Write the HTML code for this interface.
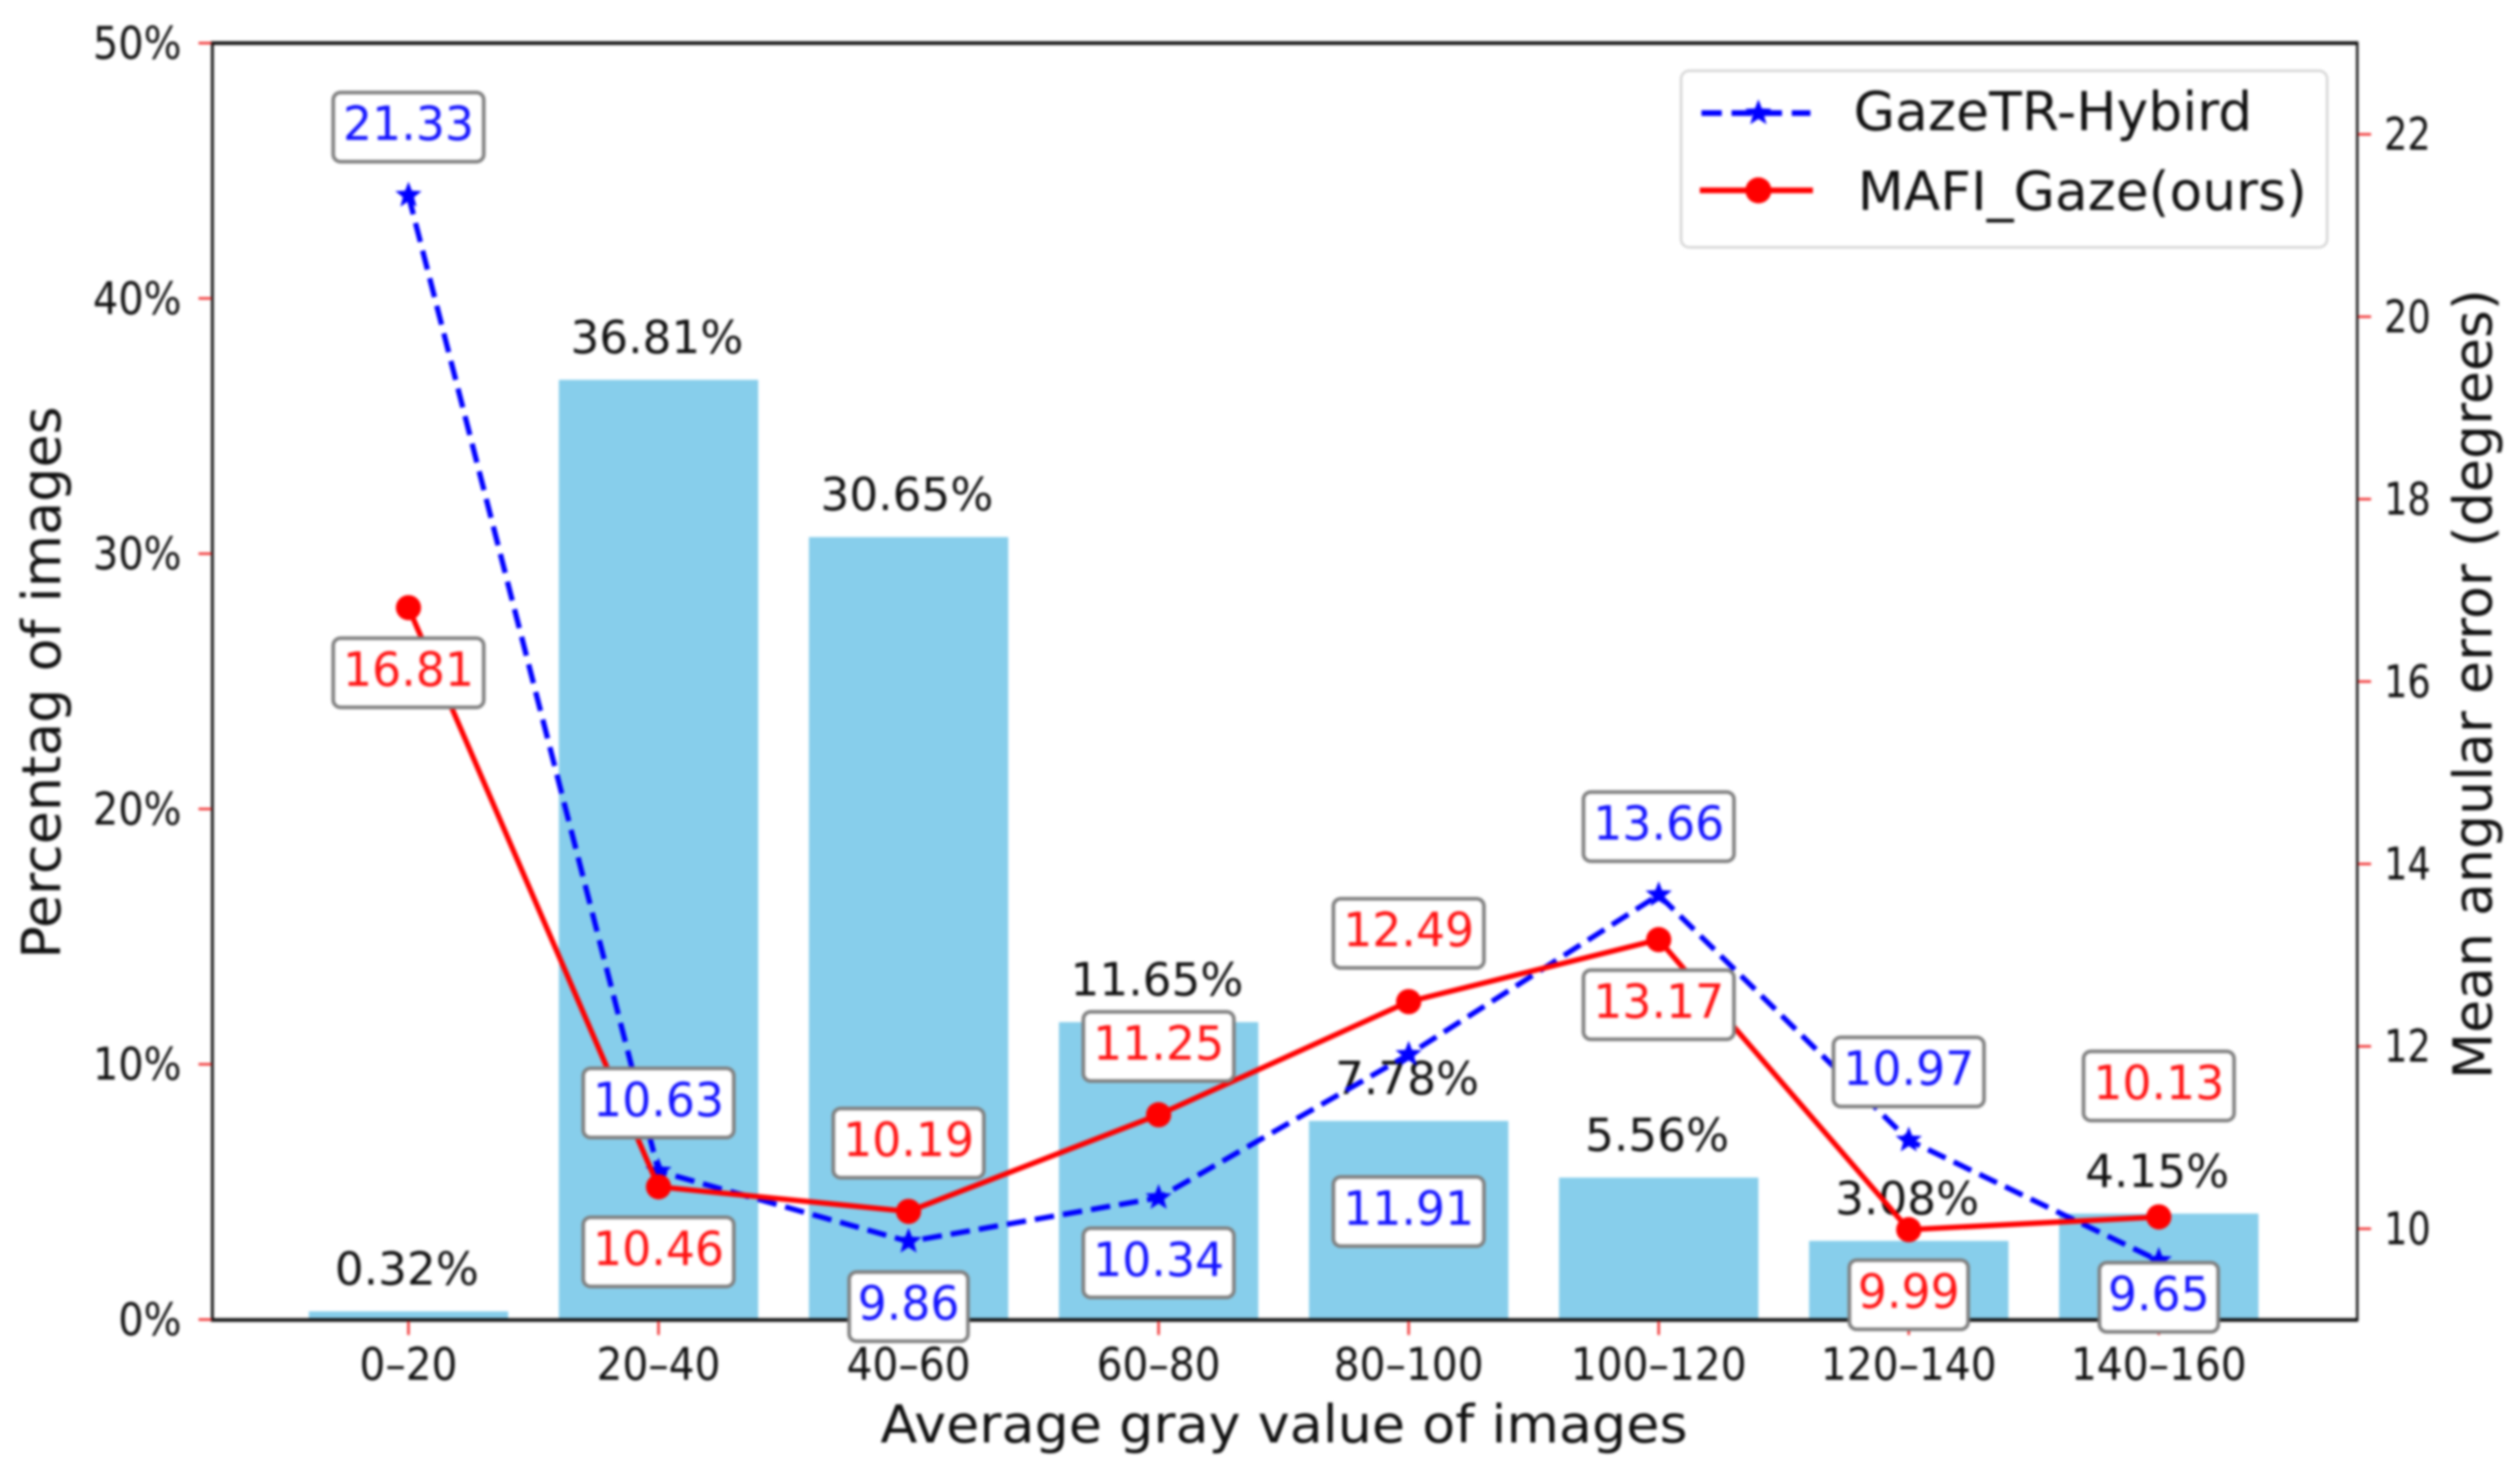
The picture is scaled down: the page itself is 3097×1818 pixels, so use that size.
<!DOCTYPE html>
<html lang="en">
<head>
<meta charset="utf-8">
<title>Percentage of images and mean angular error by average gray value</title>
<style>
  html, body { margin: 0; padding: 0; background: #fff; width: 3097px; height: 1818px; overflow: hidden; }
  svg { display: block; filter: blur(1.5px); }
  text { font-family: "DejaVu Sans", "Liberation Sans", sans-serif; }
</style>
</head>
<body>
<svg id="chart" xmlns="http://www.w3.org/2000/svg" width="3097" height="1818" viewBox="0 0 3097 1818">
  <rect x="0" y="0" width="3097" height="1818" fill="#fff"/>
  <g id="bars"></g>
  <g id="axes">
    <line x1="259" y1="53" x2="2898" y2="53" stroke="#111" stroke-width="4.5"/>
    <line x1="259" y1="1622.5" x2="2898" y2="1622.5" stroke="#111" stroke-width="4.5"/>
    <line x1="261" y1="51" x2="261" y2="1624" stroke="#111" stroke-width="3.5"/>
    <line x1="2897" y1="51" x2="2897" y2="1624" stroke="#111" stroke-width="3"/>
  </g>
  <g id="ticks"></g>
  <text x="1578" y="1773" font-size="64" fill="#111" text-anchor="middle" textLength="992" lengthAdjust="spacingAndGlyphs">Average gray value of images</text>
  <text transform="translate(74,839) rotate(-90)" font-size="66" fill="#111" text-anchor="middle" textLength="679" lengthAdjust="spacingAndGlyphs">Percentag of images</text>
  <text transform="translate(3062,841) rotate(-90)" font-size="66" fill="#111" text-anchor="middle" textLength="971" lengthAdjust="spacingAndGlyphs">Mean angular error (degrees)</text>
  <g id="barLabels"></g>
  <g id="lines"></g>
  <g id="callouts"></g>
  <g id="legend">
    <rect x="2066" y="87" width="794" height="217" rx="10" fill="#fff" stroke="#d4d4d4" stroke-width="3"/>
    <line x1="2091" y1="139" x2="2225" y2="139" stroke="#0000ff" stroke-width="7" stroke-dasharray="25,12"/>
    <line x1="2089" y1="234" x2="2228" y2="234" stroke="#ff0000" stroke-width="7"/>
    <circle cx="2161" cy="234" r="16" fill="#ff0000"/>
    <text x="2278" y="160" font-size="66" fill="#111" textLength="490" lengthAdjust="spacingAndGlyphs">GazeTR-Hybird</text>
    <text x="2283" y="258" font-size="66" fill="#111" textLength="552" lengthAdjust="spacingAndGlyphs">MAFI_Gaze(ours)</text>
  </g>
</svg>
<script>
const categories = ['0–20', '20–40', '40–60', '60–80', '80–100', '100–120', '120–140', '140–160'];
const imageShare = [0.32, 36.81, 30.65, 11.65, 7.78, 5.56, 3.08, 4.15];
const gazeTrError = [21.33, 10.63, 9.86, 10.34, 11.91, 13.66, 10.97, 9.65];
const mafiGazeError = [16.81, 10.46, 10.19, 11.25, 12.49, 13.17, 9.99, 10.13];
const shareTicks = [0, 10, 20, 30, 40, 50];
const errorTicks = [10, 12, 14, 16, 18, 20, 22];

const NS = 'http://www.w3.org/2000/svg';

function xPos(i) { return 502 + 307.3 * i; }
function yShare(v) { return 1622 - (v / 50) * 1569; }
function yError(v) { return 1622.5 - ((v - 9) / 14) * 1569.5; }

function make(tag, attrs, parent) {
  const el = document.createElementNS(NS, tag);
  for (const k in attrs) el.setAttribute(k, attrs[k]);
  parent.appendChild(el);
  return el;
}
function label(str, x, y, size, sx, anchor, fill, parent) {
  const el = make('text', {
    transform: 'translate(' + x + ',' + y + ') scale(' + sx + ',1)',
    'font-size': size,
    'text-anchor': anchor,
    fill: fill
  }, parent);
  el.textContent = str;
  return el;
}
function starPoints(cx, cy, R) {
  const pts = [];
  for (let k = 0; k < 10; k++) {
    const r = k % 2 ? R * 0.42 : R;
    const a = -Math.PI / 2 + k * Math.PI / 5;
    pts.push((cx + r * Math.cos(a)).toFixed(1) + ',' + (cy + r * Math.sin(a)).toFixed(1));
  }
  return pts.join(' ');
}

const barsG = document.getElementById('bars');
const ticksG = document.getElementById('ticks');
const barLabelsG = document.getElementById('barLabels');
const linesG = document.getElementById('lines');
const calloutsG = document.getElementById('callouts');
const legendG = document.getElementById('legend');

/* bars and their printed percentages */
imageShare.forEach(function (v, i) {
  const bar = make('rect', { x: xPos(i) - 122.5, y: yShare(v), width: 245, height: 1622.5 - yShare(v), fill: '#87ceeb' }, barsG);
  
  
  const t = label(v.toFixed(2) + '%', xPos(i) - 2, yShare(v) - 33, 56, 0.995, 'middle', '#111', barLabelsG);
  
  
});

/* category ticks */
categories.forEach(function (c, i) {
  const tick = make('line', { x1: xPos(i), x2: xPos(i), y1: 1624, y2: 1641, stroke: '#f03030', 'stroke-width': 3 }, ticksG);
  
  
  const t = label(c, xPos(i), 1696, 55, 0.91, 'middle', '#111', ticksG);
  
  
});

/* left percentage ticks */
shareTicks.forEach(function (v) {
  const tick = make('line', { x1: 244, x2: 260, y1: yShare(v), y2: yShare(v), stroke: '#f03030', 'stroke-width': 3 }, ticksG);
  
  
  const t = label(v + '%', 223, yShare(v) + 19, 55, 0.89, 'end', '#111', ticksG);
  
  
});

/* right error ticks */
errorTicks.forEach(function (v) {
  const tick = make('line', { x1: 2898, x2: 2914, y1: yError(v), y2: yError(v), stroke: '#f03030', 'stroke-width': 3 }, ticksG);
  
  
  const t = label(String(v), 2930, yError(v) + 19, 55, 0.82, 'start', '#111', ticksG);
  
  
});

/* GazeTR-Hybird dashed line */
const gazePath = make('polyline', {
  points: gazeTrError.map(function (v, i) { return xPos(i) + ',' + yError(v); }).join(' '),
  fill: 'none', stroke: '#0000ff', 'stroke-width': 6.5, 'stroke-dasharray': '24,11', 'stroke-linejoin': 'round'
}, linesG);


gazeTrError.forEach(function (v, i) {
  const star = make('polygon', { points: starPoints(xPos(i), yError(v), 17), fill: '#0000ff' }, linesG);
  
  
});

/* MAFI_Gaze solid line */
const mafiPath = make('polyline', {
  points: mafiGazeError.map(function (v, i) { return xPos(i) + ',' + yError(v); }).join(' '),
  fill: 'none', stroke: '#ff0000', 'stroke-width': 6.5, 'stroke-linejoin': 'round'
}, linesG);


mafiGazeError.forEach(function (v, i) {
  const dot = make('circle', { cx: xPos(i), cy: yError(v), r: 15.5, fill: '#ff0000' }, linesG);
  
  
});

/* callouts: which side of its point each printed value sits on */
function calloutOffset(isGaze, i) {
  const above = -84, below = 80;
  if (isGaze) {
    if (i === 4) return 193;
    if (i === 7) return 45;
    return (i === 2 || i === 3) ? below : above;
  }
  if (i === 7) return -161;
  return (i === 0 || i === 1 || i === 5 || i === 6) ? below : above;
}
function drawCallout(v, i, isGaze) {
  const str = v.toFixed(2);
  const w = 39 * str.length - 10;
  const cx = xPos(i);
  const cy = yError(v) + calloutOffset(isGaze, i);
  const color = isGaze ? '#1414ff' : '#ff1414';
  const prefix = isGaze ? 'gazetr' : 'mafi';
  const box = make('rect', { x: cx - w / 2, y: cy - 42.5, width: w, height: 85, rx: 9, fill: '#fff', stroke: '#808080', 'stroke-width': 4.5 }, calloutsG);
  
  
  const t = label(str, cx, cy + 16, 58, 0.97, 'middle', color, calloutsG);
  
  
}
mafiGazeError.forEach(function (v, i) { drawCallout(v, i, false); });
gazeTrError.forEach(function (v, i) { drawCallout(v, i, true); });

/* legend star */
const legendStar = make('polygon', { points: starPoints(2161, 139, 17), fill: '#0000ff' }, legendG);


</script>
</body>
</html>
